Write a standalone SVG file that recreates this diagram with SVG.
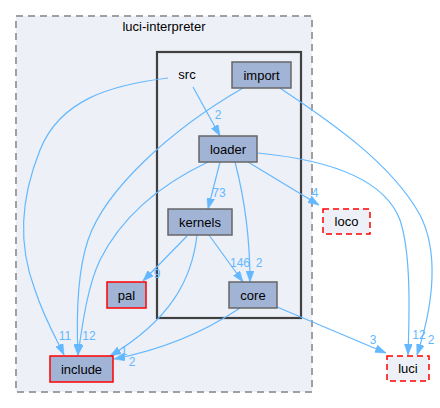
<svg xmlns="http://www.w3.org/2000/svg" width="440" height="408" viewBox="0 0 440 408">
<style>
text{font-family:"Liberation Sans",Arial,Helvetica,sans-serif;}
.nt{font-size:13px;fill:#000;text-anchor:middle;}
.el{font-size:12px;fill:#63b8ff;text-anchor:middle;}
.n{fill:#a2b4d6;stroke:#666666;stroke-width:1.5;}
.nr{fill:#a2b4d6;stroke:#ff0000;stroke-width:1.5;}
.nx{fill:#edf0f7;stroke:#ff0000;stroke-width:1.5;stroke-dasharray:6,4;}
.e{fill:none;stroke:#63b8ff;stroke-width:1.2;marker-end:url(#ah);}
</style>
<defs>
<marker id="ah" viewBox="0 0 11 8" refX="11" refY="4" markerWidth="11" markerHeight="8" markerUnits="userSpaceOnUse" orient="auto">
<path d="M0,0 L11,4 L0,8 z" fill="#63b8ff" stroke="#63b8ff" stroke-width="0.5"/>
</marker>
</defs>
<g id="cluster_outer">
<rect x="16" y="16" width="296" height="376" fill="#edf0f7" stroke="#a0a0a0" stroke-width="2" stroke-dasharray="7,5"/>
<text class="nt" x="164" y="31">luci-interpreter</text>
</g>
<g id="cluster_src">
<rect x="157" y="52" width="144" height="266" fill="#edf0f7" stroke="#404040" stroke-width="2.2"/>
<text class="nt" x="187" y="79">src</text>
</g>
<g id="edges">
<path class="e" d="M168,78 C110,85 60,100 40,150 C20,200 18,245 35,290 C45,320 57,340 64,355"/>
<text class="el" x="65" y="340">11</text>
<path class="e" d="M193,87 L220,136"/>
<text class="el" x="218" y="119">2</text>
<path class="e" d="M243,88 C170,130 105,190 88,240 C78,270 76,310 78,355"/>
<path class="e" d="M208,162 C170,180 125,210 100,260 C88,285 83,320 78,355"/>
<text class="el" x="89" y="340">12</text>
<path class="e" d="M220,162 L208,209"/>
<text class="el" x="219" y="197">73</text>
<path class="e" d="M235,162 C245,200 250,240 250,282"/>
<text class="el" x="259" y="267">2</text>
<path class="e" d="M248,162 L319,205"/>
<text class="el" x="315" y="197">4</text>
<path class="e" d="M258,153 C330,160 385,180 400,220 C410,250 410,300 408,355"/>
<text class="el" x="419" y="339">12</text>
<path class="e" d="M280,88 C320,115 390,160 420,215 C438,250 435,300 417,355"/>
<text class="el" x="431" y="344">2</text>
<path class="e" d="M187,236 L143,281"/>
<text class="el" x="157" y="278">9</text>
<text class="el" x="124" y="355">1</text>
<path class="e" d="M197,235 C192,280 170,320 110,356"/>
<path class="e" d="M209,235 L243,282"/>
<text class="el" x="240" y="267">146</text>
<path class="e" d="M240,308 C200,335 160,350 114,359"/>
<text class="el" x="132" y="366">2</text>
<path class="e" d="M277,307 L386,353"/>
<text class="el" x="373" y="344">3</text>
</g>
<g id="node_import">
<rect class="n" x="232" y="62" width="59" height="26"/>
<text class="nt" x="261.5" y="80">import</text>
</g>
<g id="node_loader">
<rect class="n" x="199" y="136" width="58" height="26"/>
<text class="nt" x="228" y="154">loader</text>
</g>
<g id="node_kernels">
<rect class="n" x="168" y="209" width="64" height="26"/>
<text class="nt" x="200" y="227">kernels</text>
</g>
<g id="node_core">
<rect class="n" x="229" y="282" width="48" height="26"/>
<text class="nt" x="253" y="300">core</text>
</g>
<g id="node_pal">
<rect class="nr" x="107" y="282" width="39" height="26"/>
<text class="nt" x="126.5" y="300">pal</text>
</g>
<g id="node_include">
<rect class="nr" x="50" y="356" width="63" height="26"/>
<text class="nt" x="81.5" y="374">include</text>
</g>
<g id="node_loco">
<rect class="nx" x="323" y="209" width="47" height="25"/>
<text class="nt" x="346.5" y="226">loco</text>
</g>
<g id="node_luci">
<rect class="nx" x="387" y="356" width="42" height="25"/>
<text class="nt" x="408" y="373">luci</text>
</g>
</svg>
